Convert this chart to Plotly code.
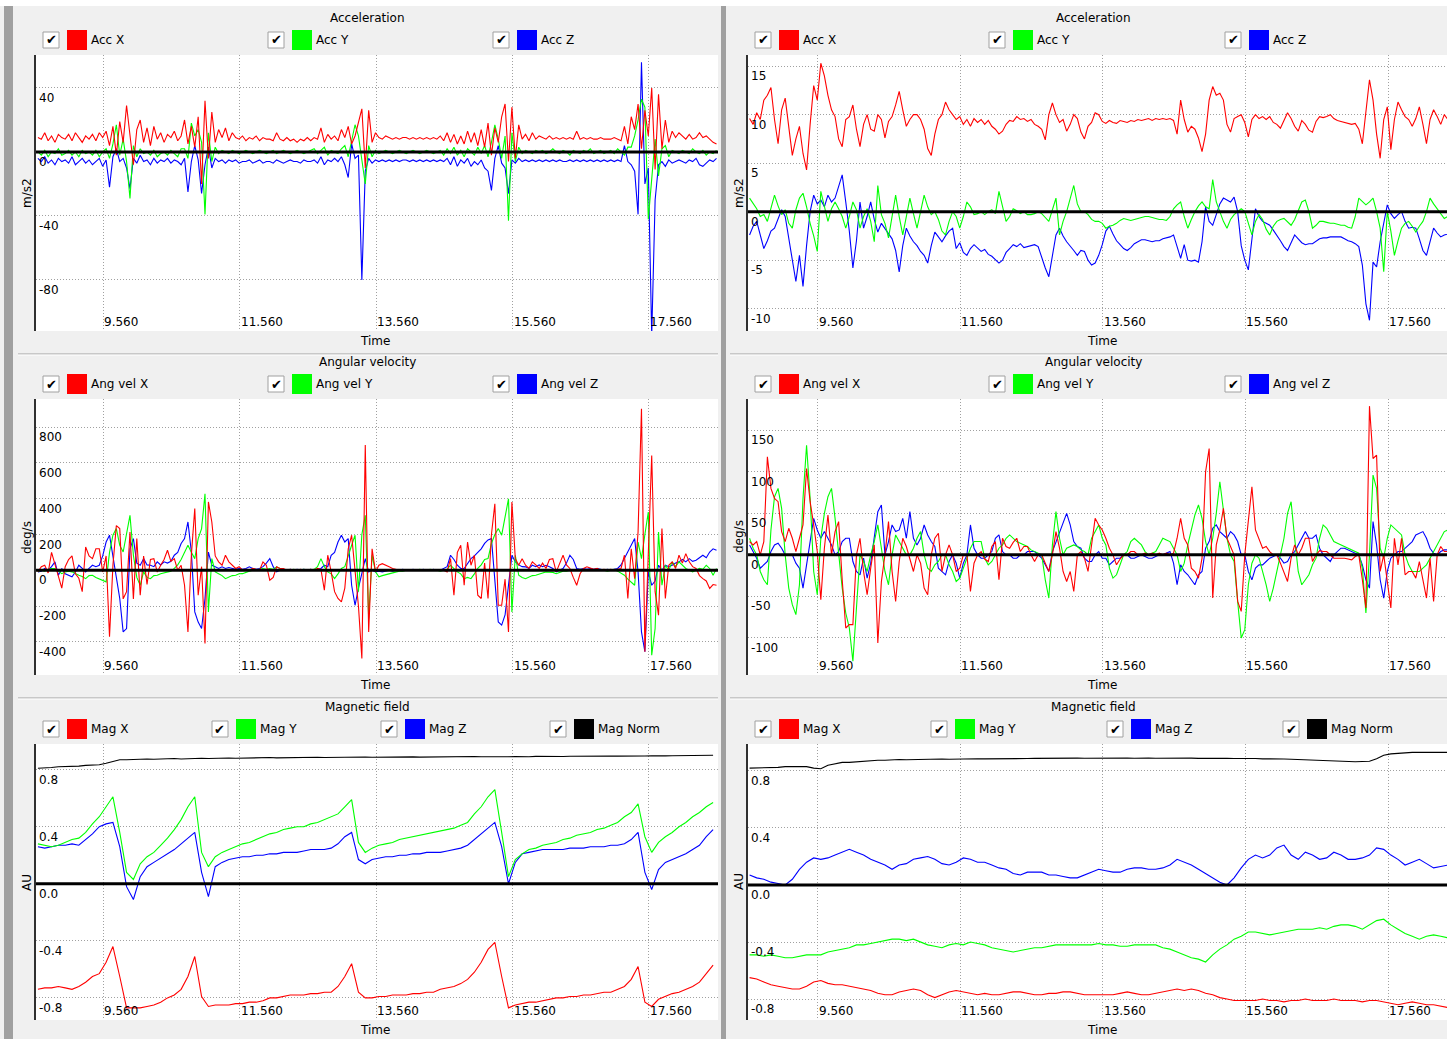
import plotly.graph_objects as go

W, H = 1447, 1039

# ---------------------------------------------------------------- sample times
t_fast = [round(8.60 + 0.05 * i, 2) for i in range(200)]   # 20 Hz channels
t_slow = [round(8.6 + 0.1 * k, 1) for k in range(100)]     # 10 Hz channels

x_ticks = [9.56, 11.56, 13.56, 15.56, 17.56]
x_tick_text = ["9.560", "11.560", "13.560", "15.560", "17.560"]

# ---------------------------------------------------------------- acceleration, left recording (m/s2)
acc_l_x = [9, 8, 12, 7, 10, 6, 11, 9,
           8, 11, 7, 12, 9, 6, 10, 8, 11, 7, 12, 9, 13, 4, 16, -2, 19, 6, 29, 12,
           -8, 14, 20, 6, 15, 4, 16, 8, 12, 6, 11, 9, 13, 7, 10, 20, 5, 16, 3, 22,
           -20, 32, -4, 25, 6, 14, 9, 15, 7, 12, 9, 8, 10, 7, 9, 8, 10, 7, 9, 8,
           8, 7, 12, 8, 7, 9, 7, 8, 6, 8, 7, 9, 7, 9, 8, 15, 6, 11, 8, 10,
           7, 14, 9, 16, 5, 10, 18, 27, -10, 26, 6, 12, 9, 8, 10, 9, 8, 9, 8, 9,
           9, 8, 9, 8, 9, 8, 9, 8, 9, 8, 10, 7, 12, 6, 11, 5, 10, 5, 13, 6,
           12, 4, 14, 3, 18, -2, 15, 6, 22, 30, -6, 28, -4, 17, 8, 11, 7, 12, 8, 10,
           9, 8, 10, 8, 9, 8, 9, 8, 9, 8, 13, 8, 9, 8, 9, 8, 8, 9, 8, 8,
           8, 9, 8, 7, 16, 5, 22, 14, 30, 2, 26, 10, 40, -11, 36, 2, 20, 6, 13, 9,
           12, 10, 8, 11, 8, 9, 12, 9, 10, 8, 6, 5]
acc_l_y = [0, -2, 1, -3, 0, -1, 2, -2,
           -1, 1, -2, 0, -3, 1, -1, 0, -2, 1, -3, 0, 2, -4, 5, 17, -2, 8, -6, -29,
           4, -3, 2, -1, 0, -2, 1, -3, -1, 0, -2, 1, -1, -3, 2, 2, -4, 18, 10, 14,
           6, -39, 12, -6, 3, -1, 1, 0, -1, 1, 0, -1, 0, 1, 0, -1, 0, 1, 0, -1,
           0, 1, -1, 0, 1, 0, -1, 0, 1, 0, -1, 0, 1, 2, -1, 1, 3, -2, 1, 0,
           -1, 2, 4, -3, 6, 17, 10, -6, -20, 4, -3, 1, -1, 0, 1, 0, -1, 0, 1, 0,
           -1, 0, 1, 0, -1, 0, 1, 0, -1, 0, 1, -2, 2, -1, 3, -2, 1, -3, 2, 0,
           -2, 3, -1, 4, -3, 6, 17, 8, -4, 10, -43, 12, -6, 3, -1, 1, 0, -1, 1, 0,
           1, -1, 0, 2, 0, -1, 1, 0, -2, 1, 0, -1, 1, 0, 2, -1, 0, 1, -1, 0,
           1, -1, 2, 0, -2, 3, 3, 10, 20, 33, 28, -42, -15, 8, -15, 2, 4, -3, 1, 0,
           -1, 1, 0, -1, 2, 0, -1, 1, -2, 0, -1, 1]
acc_l_z = [-4, -6, -3, -7, -5, -8, -4, -6,
           -5, -7, -3, -8, -6, -4, -7, -5, -8, -6, -4, -9, -5, -22, -3, 2, -6, -4, -10, -23,
           -4, -7, -2, -6, -5, -8, -4, -7, -5, -6, -4, -7, -5, -6, -8, -4, -25, -6, 4, -5,
           -26, -8, 3, -10, -4, -6, -5, -7, -5, -6, -5, -7, -6, -6, -5, -7, -6, -5, -7, -6,
           -6, -7, -5, -6, -7, -6, -5, -6, -6, -7, -5, -6, -6, -5, -7, -3, -8, -5, -6, -4,
           -6, -3, -8, -16, 5, -4, -2, -80, -12, -4, -7, -5, -6, -5, -6, -5, -6, -5, -6, -5,
           -5, -6, -5, -6, -5, -6, -5, -6, -5, -6, -5, -6, -4, -8, -3, -9, -5, -7, -4, -9,
           -6, -8, -5, -10, -12, -24, -4, 4, -7, -10, -26, -5, -7, -4, -6, -5, -6, -5, -6, -5,
           -6, -5, -6, -5, -6, -5, -6, -6, -5, -6, -5, -6, -5, -6, -5, -6, -5, -6, -5, -6,
           -5, -6, -5, -6, 4, -6, -8, -12, -39, 56, -20, -10, -115, -30, -8, -6, -9, -5, -7, -6,
           -5, -6, -7, -5, -6, -4, -8, -9, -7, -5, -6, -4]

# ---------------------------------------------------------------- acceleration, right recording (m/s2)
acc_r_x = [9.6, 9.0, 10.2, 9.5, 11.5, 12.0, 12.8, 9.5,
           7.0, 10.5, 11.7, 8.5, 5.8, 7.5, 8.8, 6.0, 4.3, 9.0, 13.0, 11.5, 15.3, 14.0, 12.0, 10.5, 9.8, 7.5, 6.7, 9.5,
           9.8, 11.0, 8.5, 6.7, 9.0, 10.0, 8.5, 8.3, 10.0, 9.5, 7.6, 9.3, 9.8, 11.0, 12.4, 10.5, 8.8, 9.5, 10.0, 10.0,
           9.5, 8.5, 6.5, 5.8, 8.0, 9.5, 10.0, 11.3, 10.5, 10.0, 9.5, 9.8, 9.0, 9.5, 8.8, 9.6, 9.2, 9.5, 9.0, 9.4,
           8.8, 8.5, 8.0, 8.3, 9.0, 9.4, 9.3, 9.8, 9.5, 9.6, 9.3, 9.5, 9.0, 8.8, 8.5, 7.4, 10.0, 11.2, 10.0, 9.2,
           9.5, 8.3, 9.0, 10.0, 9.6, 8.2, 7.5, 8.8, 9.2, 10.2, 10.0, 9.3, 9.1, 9.4, 9.2, 9.1, 9.4, 9.3, 9.2, 9.4,
           9.3, 9.5, 9.4, 9.5, 9.6, 9.4, 9.6, 9.5, 9.6, 9.5, 9.6, 9.4, 8.0, 11.5, 9.5, 8.2, 8.8, 8.5, 7.6, 6.2,
           8.0, 11.5, 12.9, 12.0, 12.2, 11.5, 9.0, 8.2, 9.6, 9.8, 10.0, 9.2, 7.7, 9.5, 10.0, 9.6, 9.8, 9.5, 9.8, 9.2,
           9.0, 8.6, 9.5, 10.2, 9.6, 8.8, 8.3, 9.4, 9.0, 8.4, 8.2, 9.3, 9.8, 9.7, 9.8, 10.0, 9.6, 9.4, 9.3, 9.2,
           9.1, 9.0, 9.1, 8.5, 7.0, 10.5, 13.6, 11.5, 8.0, 5.5, 9.5, 10.8, 6.4, 9.5, 11.3, 10.5, 9.8, 9.5, 8.8, 9.6,
           10.8, 9.0, 7.0, 9.5, 10.5, 9.8, 9.0, 10.0, 9.5, 9.5, 9.5, 9.5]
acc_r_y = [1.4, 0.8, 0.3, -0.5, -0.3, -1.0, 0.5, 1.7,
           0.6, -0.3, 0.2, -1.2, -1.7, 0.2, 1.4, 1.9, 0.5, -1.2, -2.5, -4.1, 2.1, 0.5, -1.0, 0.3, 1.0, 0.3, -0.5, -1.7,
           -0.5, 1.0, 0.2, -1.7, -0.5, 0.3, -1.0, -3.1, 2.7, -0.3, -1.2, -2.7, -0.5, 1.7, -0.5, -2.4, -0.5, 1.4, -0.2, -1.7,
           0.0, 1.7, 0.5, -0.3, 0.0, -0.8, -2.0, -2.4, -1.0, 0.0, -0.5, -1.7, -0.5, 1.0, 0.5, -0.3, -0.2, 0.0, -0.3, 0.0,
           0.2, -0.2, 2.1, 0.5, -1.0, -0.5, 0.3, 0.1, -0.2, 0.0, -0.3, -0.3, -0.2, 0.0, -0.2, -0.6, -1.0, 0.2, 1.4, -2.4,
           -1.0, 0.0, 1.5, 2.7, 0.8, 0.0, 0.0, -0.3, -0.8, -1.0, -1.0, -1.2, -1.7, -1.5, -1.4, -1.2, -0.9, -0.7, -0.8, -0.9,
           -0.8, -0.7, -0.6, -0.5, -0.5, -0.6, -0.7, -0.8, -0.8, -0.9, -0.5, 0.3, 0.7, 1.0, -0.5, -1.7, -0.8, 0.0, 0.6, 1.0,
           0.5, 0.3, 3.3, 1.0, 0.0, -1.0, -1.7, -0.8, -0.3, 0.0, 0.3, 0.0, -1.2, -2.4, -1.0, -0.3, -0.8, -1.8, -2.4, -1.5,
           -1.0, -0.8, -0.7, -1.0, -1.4, -0.8, 0.2, 1.0, 1.2, 0.0, -1.7, -1.4, -1.0, -1.0, -1.1, -1.2, -1.2, -1.3, -1.4, -1.4,
           -1.6, -1.7, -0.5, 1.4, 1.0, 0.7, 1.0, 1.4, 0.0, -1.7, -6.2, 0.0, -2.0, -4.5, -3.0, -1.7, -1.2, -1.0, -1.5, -2.1,
           -1.5, -1.0, 0.0, 1.4, 0.8, 0.3, -0.2, -0.7, -0.5, -0.3, -0.3, -0.3]
acc_r_z = [-2.4, -1.5, -1.0, -2.5, -3.8, -3.0, -2.0, -1.7,
           -0.8, 0.2, -0.5, -2.8, -5.0, -7.2, -4.5, -7.7, -3.5, 0.0, 1.7, 0.8, 1.2, 0.5, 1.7, 1.0, 1.4, 2.5, 3.8, 1.0,
           -2.0, -5.8, -3.0, 1.0, -1.7, -0.5, 1.0, -0.8, -2.1, -1.2, -1.7, -2.3, -2.8, -4.0, -6.2, -3.5, -1.7, -2.5, -3.1, -3.5,
           -4.1, -4.5, -5.3, -3.5, -2.1, -2.6, -3.1, -2.5, -2.0, -1.7, -3.8, -3.2, -4.2, -4.5, -3.8, -3.4, -3.8, -4.1, -3.9, -4.4,
           -4.6, -4.9, -5.3, -5.0, -4.2, -3.8, -3.4, -3.6, -3.3, -3.7, -3.6, -3.5, -3.4, -3.6, -4.8, -5.8, -6.7, -4.5, -2.4, -1.7,
           -2.5, -3.1, -3.5, -4.0, -4.5, -4.0, -4.1, -5.0, -5.5, -5.3, -4.5, -3.4, -2.0, -1.5, -2.3, -3.0, -3.4, -3.8, -4.0, -3.7,
           -3.3, -3.1, -2.9, -2.9, -3.0, -3.1, -3.0, -3.0, -2.8, -2.7, -2.6, -2.4, -3.5, -4.8, -3.4, -5.0, -5.1, -5.0, -5.2, -3.1,
           0.5, -1.0, -1.4, -0.3, 0.8, 1.4, 1.2, 1.0, 1.5, 0.0, -3.5, -5.0, -6.0, -2.5, 0.3, -0.5, -1.0, -1.2, -1.4, -1.9,
           -2.4, -3.0, -3.6, -4.0, -3.2, -2.4, -2.8, -3.2, -3.4, -3.3, -3.3, -3.0, -2.8, -2.7, -2.7, -2.6, -2.6, -2.6, -2.6, -2.8,
           -3.0, -3.1, -3.3, -3.6, -5.5, -9.5, -11.2, -5.2, -5.7, -3.1, -1.0, 0.7, -0.2, -0.7, -0.3, 0.0, -1.0, -1.7, -1.6, -1.7,
           -2.8, -4.0, -4.5, -3.0, -1.7, -2.2, -2.6, -2.4, -2.3, -2.2, -2.2, -2.2]

# ---------------------------------------------------------------- angular velocity, left recording (deg/s)
gyr_l_x = [-9, 20, 28, -15, 100, 30, -40, -100,
           20, 60, 80, -20, -45, -120, 130, 80, 65, 120, 120, -10, 80, -372, 28, 250, 233, -160, -120, 214,
           -160, 177, -140, 80, -80, 60, 65, -10, 28, 60, 112, 50, 65, 0, 28, -84, -345, 84, 345, -140,
           20, -410, 382, 270, 80, 47, 28, 84, 47, 28, 10, 20, 0, 5, 0, 10, 5, 0, 47, 28,
           -56, -40, 19, 10, 10, 0, 5, 0, 0, 5, 0, 0, 5, 0, 10, 5, -112, 84, -9, -120,
           -158, -177, -100, 120, 196, -9, -200, -493, 700, -345, 120, -9, 28, 37, 30, 19, 10, 5, 0, 0,
           0, 2, 0, -2, 0, 2, 0, 0, -2, 0, 2, 0, -9, 65, -140, 100, 140, -84, 158, 28,
           84, -140, -158, 40, -158, 200, 372, -196, -196, -50, -345, 382, 65, 28, 65, 28, 10, 47, 30, 10,
           40, 10, 60, 65, -9, 40, 84, 30, 10, -40, -84, -20, 10, 19, 10, 5, 10, 0, 5, 0,
           5, 0, 5, 10, 84, -158, 120, -47, 214, 903, -456, 65, 642, -120, -251, 233, -158, 28, 47, 10,
           84, 40, 93, 47, 20, 10, -30, -47, -60, -102, -80, -84]
gyr_l_y = [-9, 0, -5, 5, 10, 10, -5, -19,
           -10, -5, -9, -20, -28, -35, -47, -30, -28, -40, -47, -55, -65, 100, 196, 233, 140, 102, 200, 307,
           84, -40, -84, -9, -40, -47, -30, -28, -20, -15, -9, -5, 10, 30, 60, 102, 140, 100, 65, 177,
           233, 428, -233, 65, -9, -20, -30, -47, -40, -30, -28, -20, -19, -10, -5, 0, 0, 5, 10, 5,
           10, 5, 19, 10, 5, 0, 0, 5, 0, 0, 5, 0, 0, 5, 20, 65, 20, -9, -20, -47,
           -20, 10, 20, 84, 140, 196, -120, 200, 307, -270, 84, -9, -37, -30, -25, -19, -15, -9, -5, -5,
           0, 0, 0, 0, 5, 0, 0, 5, 0, 0, -5, 0, 5, 28, 10, -9, -20, -47, -40, -47,
           -20, 10, 30, 60, 65, 150, 200, 233, 196, 300, 400, -233, 84, -28, -40, -47, -40, -30, -28, -20,
           -15, -9, -10, -12, -19, -10, -5, -5, 0, 0, 0, 5, 0, 0, 0, 0, 0, 0, 0, -5,
           0, 5, -5, -15, -28, -50, -70, -84, 158, 65, 200, 326, -475, -326, 214, -84, 28, 0, 47, 20,
           47, 30, 10, 0, -9, 0, 10, 5, 28, 10, -28, 10]
gyr_l_z = [-9, -5, 10, 0, 20, 47, -28, 10,
           -20, -28, -37, -10, 28, 10, -9, 10, 28, 20, 28, 80, 158, 196, 65, -40, -158, -345, -326, 120,
           177, 40, 28, 65, 30, 28, 20, 47, 30, 47, 40, 50, 84, 100, 150, 177, 270, 102, -233, -290,
           -326, -158, 102, 28, 20, 10, 19, 10, 15, 10, 5, 10, 5, 10, 19, 10, 5, 10, 20, 40,
           65, 20, -9, 0, 5, 0, 5, 0, 5, 0, 5, 0, 5, 0, 5, 10, 28, 20, 84, 100,
           158, 196, 158, 177, -84, -196, -100, -9, 65, -9, 0, -9, -5, -9, -5, 0, -5, 0, 0, 5,
           0, 0, 5, 0, 0, 5, 0, 0, 5, 0, 0, 10, 20, 84, 60, 28, 10, 10, 40, 65,
           80, 102, 120, 150, 170, 177, -65, -289, -307, -250, -84, 84, 47, 30, 20, 19, 10, 28, 20, 30,
           20, 28, 20, 10, -9, 0, 10, 40, 84, 60, 10, 5, 10, 5, 10, 5, 10, 5, 0, 5,
           0, 5, 10, 30, 65, 102, 140, 177, -9, -345, -456, -9, -84, -60, 28, 0, 28, 20, 28, 40,
           47, 60, 47, 65, 50, 56, 70, 84, 70, 102, 120, 112]

# ---------------------------------------------------------------- angular velocity, right recording (deg/s)
gyr_r_x = [16, 12, 16, 0, 16, 118, 80, 68,
           64, 28, 16, 32, 20, 4, 20, 36, 104, 64, 36, 4, -54, 8, 48, 0, 28, 40, -30, -88,
           -84, -84, 0, 20, -20, -48, -16, 12, -106, -32, 0, 40, -20, -56, -8, 20, 10, -4, -20, 0,
           -10, -40, -48, 0, 20, 26, -20, 0, 12, 0, -20, -16, 0, 0, -44, -10, 0, 4, -5, -8,
           10, 16, -30, 20, 10, 8, 15, 20, 4, 10, 10, 0, -8, 0, 0, -10, -20, 0, 28, 8,
           -20, -32, -20, -44, 0, 4, -4, -20, 10, 44, 36, 30, 20, 8, 0, -12, -5, 0, 0, 4,
           4, 0, 0, 2, 0, 2, 0, 2, 0, 2, 0, 2, 20, 44, 20, 12, -16, -20, -28, -4,
           100, 128, -52, 12, 30, 56, 20, 10, 0, -56, -68, 0, 40, 82, 30, 20, 8, 10, 4, 0,
           0, -10, -20, -32, -4, 12, 0, 8, 20, 20, -8, 0, 5, 4, 4, 0, -4, -4, -4, -4,
           -5, -6, -2, 0, -30, -64, 179, 116, 120, -20, 0, -30, -64, 20, -12, 20, -24, -20, -20, -28,
           -8, -30, -52, -4, -56, 0, 10, 4, 4, 4, 4, 4]
gyr_r_y = [20, 8, 0, -20, -30, -36, 30, 70,
           80, 56, 0, -40, -60, -72, -36, 68, 132, 68, -20, -48, 20, 50, 70, 80, 44, 4, -40, -70,
           -88, -128, -60, 0, -8, -20, 0, 16, 36, 10, -20, -36, 0, 24, 16, 8, 0, 0, 8, 20,
           28, 0, -16, -20, -12, -8, 0, 0, -12, -20, -32, -28, -16, -4, 8, 16, 16, 16, -4, -12,
           -8, 0, 8, 12, 20, 24, 20, 16, 14, 12, 10, 6, 4, 2, 0, -30, -52, 12, 52, 20,
           0, 8, 10, 12, 10, 6, 4, 0, 20, 28, 36, 20, 12, -16, -28, -24, -12, 0, 4, 16,
           20, 16, 12, 4, 0, 2, 4, 12, 20, 18, 16, 8, 0, -20, -10, 12, 30, 48, 60, 44,
           16, 0, 20, 50, 88, 56, 20, 0, -8, -56, -100, -90, -36, -10, 0, -4, -20, -36, -56, -40,
           -20, 0, 20, 50, 64, 20, -20, -36, -30, -24, -12, -4, 20, 36, 32, 24, 16, 14, 12, 10,
           8, 6, 4, 2, -16, -70, 0, 96, 80, 8, -4, 20, 36, 32, 28, 24, 0, -12, -20, -20,
           -20, -16, -12, -4, 4, 12, 20, 28, 30, 30, 30, 30]
gyr_r_z = [12, 4, -4, -16, -12, -8, 4, 12,
           14, 8, 0, 0, 0, -10, -16, -40, -10, 20, 44, 30, 20, 28, 20, 12, 0, 4, 16, 20,
           20, -8, -20, -24, -4, -28, -10, 20, 52, 60, 0, 16, 36, 28, 30, 44, 20, 52, 20, 12,
           20, 36, 24, 16, 10, -16, -20, -24, -8, 0, -10, -28, -10, 0, 36, 8, 0, -4, -4, 0,
           4, 20, 24, 4, 0, 0, -4, -4, 0, 0, 4, 4, 4, 0, -4, -12, -20, 4, 16, 28,
           40, 50, 36, 16, 10, 8, -4, -8, -8, 0, 4, -4, -4, -12, -8, -4, -4, 0, 0, -4,
           -4, -2, 0, -2, -4, -4, -2, 0, 0, 2, 4, -10, -36, -12, -20, -24, -30, -36, -24, -20,
           8, 16, 32, 36, 28, 24, 20, 28, 24, 16, 0, 0, -20, -30, -16, -12, -12, -8, -4, -2,
           0, -4, -10, -8, 0, 4, 12, 20, 28, 20, 20, 24, 8, 0, -4, -8, 0, 4, 8, 8,
           6, 4, 2, 0, -12, -30, -40, 40, 12, -30, -52, -20, -4, 0, 4, 4, 8, 12, 16, 24,
           26, 28, 20, 8, 2, 0, 4, 6, 6, 6, 6, 6]

# ---------------------------------------------------------------- magnetic field, left recording (AU)
mag_l_x = [-0.74, -0.73, -0.73, -0.72, -0.73, -0.74, -0.72, -0.69, -0.65, -0.63,
           -0.55, -0.44, -0.65, -0.87, -0.87, -0.87, -0.86, -0.85, -0.83, -0.80,
           -0.78, -0.74, -0.65, -0.51, -0.79, -0.86, -0.85, -0.85, -0.85, -0.84,
           -0.84, -0.83, -0.83, -0.82, -0.80, -0.80, -0.79, -0.78, -0.78, -0.78,
           -0.77, -0.77, -0.76, -0.76, -0.72, -0.65, -0.56, -0.76, -0.80, -0.80,
           -0.79, -0.79, -0.78, -0.78, -0.78, -0.77, -0.77, -0.76, -0.76, -0.74,
           -0.73, -0.72, -0.70, -0.67, -0.62, -0.55, -0.46, -0.41, -0.65, -0.87,
           -0.85, -0.84, -0.83, -0.83, -0.82, -0.81, -0.80, -0.80, -0.79, -0.79,
           -0.78, -0.78, -0.77, -0.76, -0.76, -0.74, -0.72, -0.67, -0.58, -0.83,
           -0.86, -0.81, -0.79, -0.77, -0.76, -0.74, -0.72, -0.69, -0.63, -0.57]
mag_l_y = [0.28, 0.27, 0.26, 0.27, 0.29, 0.31, 0.32, 0.36, 0.42, 0.47,
           0.54, 0.61, 0.36, 0.08, 0.03, 0.14, 0.19, 0.22, 0.27, 0.32,
           0.38, 0.45, 0.54, 0.61, 0.22, 0.12, 0.19, 0.22, 0.24, 0.26,
           0.28, 0.29, 0.31, 0.33, 0.35, 0.36, 0.38, 0.39, 0.40, 0.40,
           0.42, 0.43, 0.45, 0.47, 0.49, 0.54, 0.59, 0.29, 0.22, 0.25,
           0.27, 0.28, 0.29, 0.31, 0.32, 0.33, 0.34, 0.35, 0.36, 0.37,
           0.38, 0.39, 0.41, 0.43, 0.49, 0.54, 0.61, 0.66, 0.36, 0.05,
           0.17, 0.21, 0.24, 0.25, 0.27, 0.28, 0.29, 0.31, 0.32, 0.34,
           0.35, 0.36, 0.38, 0.39, 0.41, 0.43, 0.47, 0.50, 0.56, 0.33,
           0.22, 0.29, 0.33, 0.36, 0.40, 0.43, 0.47, 0.50, 0.54, 0.57]
mag_l_z = [0.26, 0.25, 0.26, 0.27, 0.27, 0.28, 0.27, 0.31, 0.35, 0.40,
           0.42, 0.43, 0.26, -0.02, -0.11, 0.05, 0.12, 0.15, 0.18, 0.21,
           0.24, 0.28, 0.32, 0.36, 0.08, -0.09, 0.12, 0.15, 0.17, 0.18,
           0.19, 0.19, 0.20, 0.20, 0.21, 0.21, 0.22, 0.22, 0.22, 0.23,
           0.24, 0.24, 0.24, 0.25, 0.28, 0.33, 0.36, 0.17, 0.14, 0.17,
           0.18, 0.19, 0.19, 0.20, 0.20, 0.21, 0.21, 0.22, 0.22, 0.22,
           0.23, 0.24, 0.25, 0.27, 0.31, 0.35, 0.39, 0.43, 0.26, 0.00,
           0.15, 0.21, 0.22, 0.23, 0.24, 0.24, 0.24, 0.24, 0.25, 0.25,
           0.25, 0.26, 0.26, 0.26, 0.27, 0.27, 0.28, 0.31, 0.36, 0.08,
           -0.04, 0.10, 0.15, 0.17, 0.19, 0.21, 0.24, 0.27, 0.33, 0.38]
mag_l_norm = [0.81, 0.81, 0.815, 0.82, 0.82, 0.825, 0.825, 0.83, 0.83, 0.835,
              0.845, 0.86, 0.87, 0.87, 0.872, 0.875, 0.875, 0.873, 0.876, 0.878,
              0.878, 0.875, 0.877, 0.88, 0.88, 0.878, 0.88, 0.88, 0.882, 0.88,
              0.882, 0.883, 0.881, 0.884, 0.885, 0.883, 0.884, 0.886, 0.885, 0.884,
              0.886, 0.887, 0.885, 0.886, 0.888, 0.887, 0.886, 0.888, 0.889, 0.887,
              0.888, 0.889, 0.888, 0.887, 0.889, 0.89, 0.888, 0.889, 0.89, 0.891,
              0.89, 0.889, 0.891, 0.89, 0.892, 0.891, 0.89, 0.892, 0.893, 0.891,
              0.892, 0.89, 0.891, 0.893, 0.892, 0.894, 0.893, 0.892, 0.894, 0.895,
              0.894, 0.895, 0.893, 0.895, 0.896, 0.895, 0.894, 0.896, 0.897, 0.896,
              0.897, 0.895, 0.897, 0.898, 0.899, 0.898, 0.9, 0.899, 0.9, 0.901]

# ---------------------------------------------------------------- magnetic field, right recording (AU)
mag_r_x = [-0.65, -0.66, -0.68, -0.70, -0.71, -0.72, -0.73, -0.73, -0.71, -0.68,
           -0.67, -0.69, -0.70, -0.70, -0.71, -0.72, -0.73, -0.74, -0.76, -0.77,
           -0.77, -0.75, -0.74, -0.73, -0.74, -0.77, -0.79, -0.77, -0.75, -0.74,
           -0.75, -0.76, -0.77, -0.76, -0.77, -0.77, -0.76, -0.75, -0.75, -0.76,
           -0.77, -0.77, -0.76, -0.76, -0.75, -0.75, -0.76, -0.77, -0.77, -0.77,
           -0.77, -0.77, -0.76, -0.75, -0.76, -0.77, -0.77, -0.76, -0.75, -0.74,
           -0.73, -0.74, -0.73, -0.74, -0.76, -0.77, -0.79, -0.80, -0.81, -0.81,
           -0.81, -0.81, -0.80, -0.81, -0.81, -0.82, -0.81, -0.81, -0.80, -0.81,
           -0.81, -0.81, -0.80, -0.81, -0.81, -0.81, -0.82, -0.81, -0.81, -0.82,
           -0.83, -0.84, -0.83, -0.82, -0.83, -0.84, -0.84, -0.85, -0.86, -0.86]
mag_r_y = [-0.49, -0.49, -0.50, -0.49, -0.50, -0.51, -0.51, -0.50, -0.49, -0.49,
           -0.49, -0.47, -0.46, -0.45, -0.44, -0.42, -0.42, -0.41, -0.40, -0.39,
           -0.38, -0.38, -0.39, -0.38, -0.40, -0.42, -0.43, -0.44, -0.42, -0.41,
           -0.42, -0.40, -0.41, -0.42, -0.44, -0.45, -0.46, -0.47, -0.46, -0.45,
           -0.44, -0.44, -0.43, -0.42, -0.42, -0.42, -0.42, -0.42, -0.42, -0.41,
           -0.42, -0.42, -0.43, -0.43, -0.42, -0.42, -0.42, -0.42, -0.44, -0.45,
           -0.47, -0.49, -0.51, -0.52, -0.54, -0.49, -0.45, -0.42, -0.38, -0.36,
           -0.33, -0.33, -0.34, -0.35, -0.34, -0.33, -0.32, -0.31, -0.31, -0.31,
           -0.30, -0.31, -0.29, -0.28, -0.28, -0.29, -0.31, -0.28, -0.25, -0.24,
           -0.28, -0.31, -0.34, -0.36, -0.38, -0.36, -0.35, -0.36, -0.37, -0.37]
mag_r_z = [0.07, 0.05, 0.04, 0.02, 0.01, 0.00, 0.04, 0.11, 0.16, 0.19,
           0.18, 0.19, 0.21, 0.23, 0.25, 0.23, 0.21, 0.18, 0.16, 0.14,
           0.11, 0.14, 0.15, 0.18, 0.19, 0.20, 0.18, 0.15, 0.14, 0.16,
           0.19, 0.18, 0.16, 0.16, 0.14, 0.12, 0.11, 0.08, 0.07, 0.09,
           0.09, 0.09, 0.07, 0.07, 0.06, 0.05, 0.05, 0.07, 0.09, 0.11,
           0.10, 0.09, 0.09, 0.11, 0.12, 0.12, 0.11, 0.11, 0.12, 0.14,
           0.18, 0.16, 0.14, 0.11, 0.08, 0.05, 0.02, 0.00, 0.05, 0.12,
           0.18, 0.21, 0.19, 0.21, 0.26, 0.28, 0.21, 0.18, 0.23, 0.21,
           0.18, 0.19, 0.23, 0.21, 0.18, 0.18, 0.19, 0.21, 0.26, 0.25,
           0.21, 0.18, 0.14, 0.16, 0.18, 0.15, 0.12, 0.13, 0.14, 0.14]
mag_r_norm = [0.82, 0.82, 0.825, 0.82, 0.825, 0.83, 0.83, 0.83, 0.83, 0.82,
              0.815, 0.84, 0.85, 0.86, 0.86, 0.865, 0.87, 0.87, 0.875, 0.875,
              0.878, 0.88, 0.878, 0.88, 0.882, 0.88, 0.882, 0.884, 0.882, 0.884,
              0.885, 0.884, 0.886, 0.885, 0.886, 0.888, 0.887, 0.886, 0.888, 0.887,
              0.888, 0.889, 0.888, 0.89, 0.889, 0.888, 0.89, 0.889, 0.89, 0.891,
              0.89, 0.889, 0.891, 0.89, 0.889, 0.891, 0.89, 0.889, 0.89, 0.891,
              0.89, 0.889, 0.89, 0.888, 0.889, 0.89, 0.888, 0.889, 0.887, 0.888,
              0.886, 0.887, 0.885, 0.886, 0.885, 0.884, 0.882, 0.88, 0.878, 0.875,
              0.872, 0.87, 0.868, 0.866, 0.866, 0.865, 0.866, 0.868, 0.885, 0.91,
              0.92, 0.925, 0.928, 0.93, 0.93, 0.93, 0.931, 0.93, 0.93, 0.93]

RED, GREEN, BLUE, BLACK = "#ff0000", "#00ff00", "#0000ff", "#000000"
FONT = "DejaVu Sans"
BG = "#f0f0f0"
GRID = "#a0a0a0"

# pixel geometry of the two columns and three rows
COLS = [dict(x0=36, x1=718, title_x=367, ylab_x=27, legend_x3=[43, 268, 493], legend_x4=[43, 212, 381, 550]),
        dict(x0=748, x1=1447, title_x=1093, ylab_x=739, legend_x3=[755, 989, 1225], legend_x4=[755, 931, 1107, 1283])]
ROWS = [(55, 331), (399, 675), (744, 1020)]
X_RANGE = [[8.572, 18.572], [8.578, 18.388]]


def fx(p):
    return p / W


def fy(p):
    return 1 - p / H


panels = [
    dict(row=0, col=0, title="Acceleration", ylab="m/s2", yrange=[-111.9, 60.6],
         yticks=[40, 0, -40, -80], ytext=["40", "0", "-40", "-80"],
         series=[("Acc X", RED, acc_l_x), ("Acc Y", GREEN, acc_l_y), ("Acc Z", BLUE, acc_l_z)], t=t_fast),
    dict(row=0, col=1, title="Acceleration", ylab="m/s2", yrange=[-12.3, 16.15],
         yticks=[15, 10, 5, 0, -5, -10], ytext=["15", "10", "5", "0", "-5", "-10"],
         series=[("Acc X", RED, acc_r_x), ("Acc Y", GREEN, acc_r_y), ("Acc Z", BLUE, acc_r_z)], t=t_fast),
    dict(row=1, col=0, title="Angular velocity", ylab="deg/s", yrange=[-586, 958],
         yticks=[800, 600, 400, 200, 0, -200, -400], ytext=["800", "600", "400", "200", "0", "-200", "-400"],
         series=[("Ang vel X", RED, gyr_l_x), ("Ang vel Y", GREEN, gyr_l_y), ("Ang vel Z", BLUE, gyr_l_z)], t=t_fast),
    dict(row=1, col=1, title="Angular velocity", ylab="deg/s", yrange=[-144.6, 187.6],
         yticks=[150, 100, 50, 0, -50, -100], ytext=["150", "100", "50", "0", "-50", "-100"],
         series=[("Ang vel X", RED, gyr_r_x), ("Ang vel Y", GREEN, gyr_r_y), ("Ang vel Z", BLUE, gyr_r_z)], t=t_fast),
    dict(row=2, col=0, title="Magnetic field", ylab="AU", yrange=[-0.955, 0.98],
         yticks=[0.8, 0.4, 0.0, -0.4, -0.8], ytext=["0.8", "0.4", "0.0", "-0.4", "-0.8"],
         series=[("Mag X", RED, mag_l_x), ("Mag Y", GREEN, mag_l_y), ("Mag Z", BLUE, mag_l_z),
                 ("Mag Norm", BLACK, mag_l_norm)], t=t_slow),
    dict(row=2, col=1, title="Magnetic field", ylab="AU", yrange=[-0.947, 0.989],
         yticks=[0.8, 0.4, 0.0, -0.4, -0.8], ytext=["0.8", "0.4", "0.0", "-0.4", "-0.8"],
         series=[("Mag X", RED, mag_r_x), ("Mag Y", GREEN, mag_r_y), ("Mag Z", BLUE, mag_r_z),
                 ("Mag Norm", BLACK, mag_r_norm)], t=t_slow),
]

fig = go.Figure()
shapes, annotations = [], []

# window chrome: left frame bar, column divider, white top strip
shapes.append(dict(type="rect", xref="paper", yref="paper", x0=fx(4), x1=fx(13), y0=0, y1=fy(6),
                   fillcolor="#a0a0a0", line=dict(width=0), layer="below"))
shapes.append(dict(type="rect", xref="paper", yref="paper", x0=fx(721), x1=fx(726), y0=0, y1=1,
                   fillcolor="#a0a0a0", line=dict(width=0), layer="below"))
shapes.append(dict(type="rect", xref="paper", yref="paper", x0=0, x1=1, y0=fy(6), y1=1,
                   fillcolor="#ffffff", line=dict(width=0), layer="below"))
for ysep in (354, 698):
    for xa, xb in ((18, 718), (730, 1447)):
        shapes.append(dict(type="line", xref="paper", yref="paper", x0=fx(xa), x1=fx(xb),
                           y0=fy(ysep), y1=fy(ysep), line=dict(color="#a0a0a0", width=1)))
        shapes.append(dict(type="line", xref="paper", yref="paper", x0=fx(xa), x1=fx(xb),
                           y0=fy(ysep + 1), y1=fy(ysep + 1), line=dict(color="#ffffff", width=1)))


def text(x, y, s, xanchor="center", yanchor="middle", size=12, angle=0, **kw):
    d = dict(x=x, y=y, text=s, showarrow=False, xanchor=xanchor, yanchor=yanchor,
             font=dict(family=FONT, size=size, color="#000000"), textangle=angle)
    d.setdefault("xref", "paper")
    d.setdefault("yref", "paper")
    d.update(kw)
    return d


layout_axes = {}
for n, p in enumerate(panels, start=1):
    col, (top, bot) = COLS[p["col"]], ROWS[p["row"]]
    sfx = "" if n == 1 else str(n)
    xname, yname = "x" + sfx, "y" + sfx

    layout_axes["xaxis" + sfx] = dict(
        domain=[fx(col["x0"]), fx(col["x1"])], range=X_RANGE[p["col"]], anchor=yname,
        tickvals=x_ticks, showticklabels=False, ticks="", showgrid=True, gridcolor=GRID,
        griddash="1px,2px", gridwidth=1, zeroline=False, showline=False, fixedrange=True)
    layout_axes["yaxis" + sfx] = dict(
        domain=[fy(bot), fy(top)], range=p["yrange"], anchor=xname,
        tickvals=p["yticks"], showticklabels=False, ticks="", showgrid=True, gridcolor=GRID,
        griddash="1px,2px", gridwidth=1, zeroline=False, showline=True, linecolor="#303030",
        linewidth=2, fixedrange=True)

    # signal traces (drawn back to front: norm, Z, Y, X)
    for name, color, vals in reversed(p["series"]):
        assert len(vals) == len(p["t"]), (p["title"], name, len(vals))
        fig.add_trace(go.Scatter(x=p["t"], y=vals, mode="lines", name=name,
                                 line=dict(color=color, width=1.1), xaxis=xname, yaxis=yname,
                                 hoverinfo="skip", showlegend=False))

    # heavy reference line at zero
    shapes.append(dict(type="line", xref=xname + " domain", yref=yname, x0=0, x1=1, y0=0, y1=0,
                       line=dict(color="#000000", width=3), layer="above"))

    # tick labels drawn inside the plotting area
    for v, s in zip(p["yticks"], p["ytext"]):
        annotations.append(text(fx(col["x0"] + 1), v, s, xanchor="left", yanchor="top",
                                yref=yname, yshift=-1))
    for v, s in zip(x_ticks, x_tick_text):
        annotations.append(text(v, fy(bot), s, xanchor="left", yanchor="bottom",
                                xref=xname, xshift=-1))

    # panel title, axis captions
    annotations.append(text(fx(col["title_x"]), fy(top - 37), p["title"]))
    annotations.append(text(fx((col["x0"] + col["x1"] + (12 if p["col"] else 0)) / 2 - 2), fy(bot + 10), "Time"))
    annotations.append(text(fx(col["ylab_x"]), fy((top + bot) / 2), p["ylab"], angle=-90))

    # legend row: checkbox, colour swatch, label
    ly = top - 15
    xs = col["legend_x4"] if len(p["series"]) == 4 else col["legend_x3"]
    for (name, color, _), cx in zip(p["series"], xs):
        shapes.append(dict(type="rect", xref="paper", yref="paper", x0=fx(cx), x1=fx(cx + 16),
                           y0=fy(ly + 8), y1=fy(ly - 8), fillcolor="#ffffff",
                           line=dict(color="#a0a0a0", width=1)))
        annotations.append(text(fx(cx + 8), fy(ly), "✔", size=13))
        shapes.append(dict(type="rect", xref="paper", yref="paper", x0=fx(cx + 24), x1=fx(cx + 44),
                           y0=fy(ly + 10), y1=fy(ly - 10), fillcolor=color, line=dict(width=0)))
        annotations.append(text(fx(cx + 46), fy(ly), name, xanchor="left"))

fig.update_layout(
    width=W, height=H, autosize=False,
    margin=dict(l=0, r=0, t=0, b=0),
    paper_bgcolor=BG, plot_bgcolor="#ffffff",
    showlegend=False, shapes=shapes, annotations=annotations,
    font=dict(family=FONT, size=12, color="#000000"),
    **layout_axes,
)

fig.write_html("out.html", config={"displayModeBar": False})
